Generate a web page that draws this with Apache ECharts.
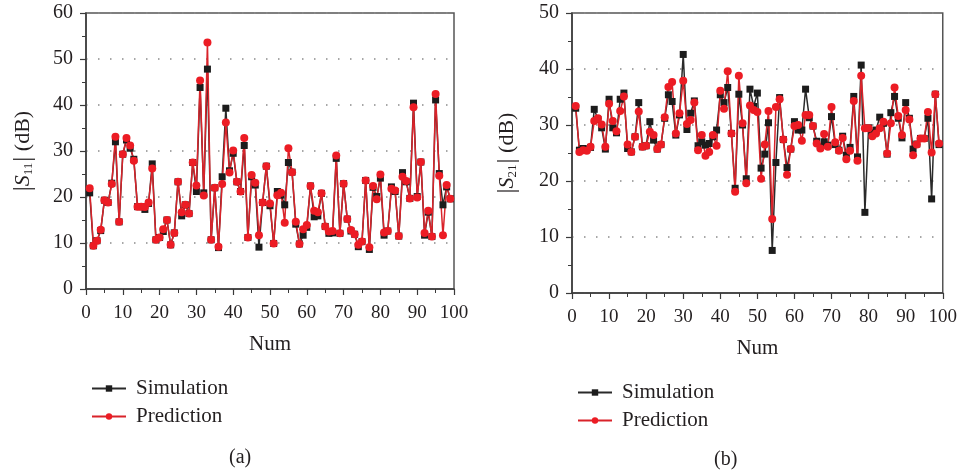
<!DOCTYPE html>
<html>
<head>
<meta charset="utf-8">
<title>S11 / S21</title>
<script src="https://cdn.jsdelivr.net/npm/echarts@6/dist/echarts.min.js"></script>
<style>
  html, body { margin: 0; padding: 0; background: #fff; }
  #main { width: 960px; height: 473px; }
</style>
</head>
<body>
<div id="main"></div>
<script>
// |S11| (a)
var s11Sim = [20.9, 9.4, 10.5, 12.7, 19.3, 18.8, 23.0, 32.0, 14.6, 29.3,
  32.4, 30.6, 28.2, 17.9, 17.9, 17.3, 18.6, 27.2, 10.7, 11.2,
  12.5, 15.0, 9.6, 12.2, 23.3, 15.9, 18.3, 16.4, 27.5, 21.2,
  43.8, 20.9, 47.8, 10.7, 22.0, 9.0, 24.4, 39.3, 25.7, 29.5,
  23.3, 21.2, 31.2, 11.2, 24.4, 22.6, 9.1, 18.8, 26.7, 18.1,
  9.9, 21.2, 20.4, 18.3, 27.5, 25.4, 14.1, 9.8, 11.7, 13.4,
  22.4, 15.7, 15.9, 20.8, 13.6, 12.1, 12.2, 28.4, 12.1, 22.9,
  15.2, 12.6, 11.9, 9.2, 10.3, 23.6, 8.6, 22.1, 20.1, 24.1,
  11.7, 12.6, 22.2, 21.2, 11.5, 25.3, 23.3, 19.7, 40.4, 20.1,
  27.6, 11.7, 16.7, 11.4, 41.1, 25.1, 18.3, 22.2, 19.6];
var s11Pred = [21.9, 9.4, 10.5, 12.9, 19.3, 18.8, 22.8, 33.1, 14.6, 29.3,
  32.8, 31.2, 27.9, 17.9, 17.9, 17.8, 18.8, 26.2, 10.7, 11.2,
  13.0, 15.0, 9.6, 12.2, 23.3, 16.7, 18.3, 16.4, 27.5, 22.5,
  45.3, 20.3, 53.6, 10.7, 22.0, 9.2, 22.8, 36.2, 25.3, 30.1,
  23.3, 21.2, 32.8, 11.2, 24.8, 23.1, 11.7, 18.8, 26.7, 18.6,
  9.9, 20.4, 20.9, 14.4, 30.6, 25.4, 14.6, 9.8, 13.0, 13.9,
  22.4, 17.0, 16.7, 20.8, 13.6, 12.5, 12.6, 29.0, 12.1, 22.9,
  15.2, 12.8, 11.9, 9.6, 10.3, 23.6, 9.1, 22.4, 19.5, 24.9,
  12.3, 12.6, 21.8, 21.4, 11.5, 24.4, 23.5, 19.7, 39.5, 19.9,
  27.6, 12.2, 17.0, 11.4, 42.4, 24.6, 11.7, 22.6, 19.6];

// |S21| (b)
var s21Sim = [33.0, 25.5, 25.8, 25.7, 26.0, 32.8, 31.0, 29.5, 25.7, 34.6,
  29.5, 28.6, 34.6, 35.7, 25.8, 25.2, 27.9, 34.0, 26.1, 26.3,
  30.6, 27.3, 25.7, 26.5, 31.2, 35.4, 34.2, 28.2, 31.8, 42.6,
  29.2, 32.1, 34.3, 26.3, 27.0, 26.4, 26.7, 27.9, 29.1, 35.4,
  34.0, 36.7, 28.5, 18.7, 35.5, 30.0, 20.4, 36.4, 33.3, 35.7,
  22.3, 24.8, 30.4, 7.6, 23.3, 34.9, 27.4, 22.4, 25.7, 30.6,
  29.1, 29.1, 36.4, 31.3, 29.8, 27.1, 26.1, 27.0, 26.4, 31.5,
  26.5, 25.5, 28.0, 24.6, 26.0, 35.1, 24.3, 40.7, 14.4, 29.5,
  28.6, 29.1, 31.4, 30.3, 24.8, 32.2, 35.1, 31.2, 27.7, 34.0,
  31.2, 25.7, 26.6, 27.6, 27.6, 31.2, 16.8, 35.5, 26.5];
var s21Pred = [33.4, 25.2, 25.5, 25.4, 26.1, 30.7, 31.2, 30.1, 26.1, 33.8,
  30.7, 28.9, 32.5, 35.1, 26.5, 25.2, 27.9, 32.4, 26.1, 26.3,
  28.8, 28.2, 25.7, 26.5, 31.4, 36.8, 37.7, 28.5, 32.1, 37.9,
  30.2, 30.9, 34.0, 25.5, 28.2, 24.5, 25.2, 28.2, 26.3, 36.1,
  32.9, 39.6, 28.5, 18.1, 38.8, 30.3, 19.6, 33.5, 32.7, 32.3,
  20.4, 26.5, 32.5, 13.2, 33.2, 34.6, 27.4, 21.1, 25.7, 29.8,
  30.0, 27.2, 31.8, 31.8, 29.8, 26.7, 25.8, 28.4, 26.1, 33.2,
  26.9, 25.4, 27.7, 23.9, 25.4, 34.3, 23.6, 38.8, 29.4, 29.4,
  28.0, 28.5, 29.4, 30.6, 24.9, 30.3, 36.7, 31.6, 28.2, 32.7,
  31.0, 24.6, 26.5, 27.6, 27.6, 32.3, 25.1, 35.5, 26.7];

var font = '"Liberation Serif", "DejaVu Serif", serif';
var textColor = '#231f20';

function pairs(vals) {
  return vals.map(function (v, i) { return [i + 1, v]; });
}

function xAxisOpt(gi) {
  return {
    type: 'value', gridIndex: gi, min: 0, max: 100, interval: 10,
    name: 'Num', nameLocation: 'middle', nameGap: 45,
    nameTextStyle: { fontFamily: font, fontSize: 21, color: textColor },
    axisLine: { onZero: false, lineStyle: { color: '#3a3a3a', width: 1.5 } },
    axisTick: { length: 6, lineStyle: { color: '#3a3a3a', width: 1.2 } },
    minorTick: { show: true, splitNumber: 2, length: 4, lineStyle: { color: '#3a3a3a', width: 1 } },
    axisLabel: { fontFamily: font, fontSize: 19, color: textColor, margin: 15 },
    splitLine: { show: false }
  };
}

function yAxisOpt(gi, max, sub, gap) {
  return {
    type: 'value', gridIndex: gi, min: 0, max: max, interval: 10,
    name: '{b||}{t|S}{s|' + sub + '}{b||}{n| (dB)}',
    nameLocation: 'middle', nameGap: gap, nameRotate: 90,
    nameTextStyle: {
      fontFamily: font, fontSize: 22, color: textColor,
      rich: {
        b: { fontFamily: font, fontSize: 25, color: textColor },
        t: { fontFamily: font, fontSize: 22, fontStyle: 'italic', color: textColor },
        s: { fontFamily: font, fontSize: 13, color: textColor, padding: [11, 1, 0, 0] },
        n: { fontFamily: font, fontSize: 22, color: textColor }
      }
    },
    axisLine: { show: true, lineStyle: { color: '#3a3a3a', width: 1.5 } },
    axisTick: { length: 6, lineStyle: { color: '#3a3a3a', width: 1.2 } },
    minorTick: { show: true, splitNumber: 2, length: 4, lineStyle: { color: '#3a3a3a', width: 1 } },
    axisLabel: { fontFamily: font, fontSize: 20, color: textColor, margin: 13 },
    splitLine: { show: true, lineStyle: { color: '#8a8a8a', width: 1.5, type: [1.5, 10.5] } }
  };
}

function simSeries(gi, vals) {
  return {
    name: 'Simulation', type: 'line', xAxisIndex: gi, yAxisIndex: gi,
    data: pairs(vals), symbol: 'rect', symbolSize: 7,
    itemStyle: { color: '#1c1c1c' },
    lineStyle: { color: '#2a2a2a', width: 1.5 },
    animation: false
  };
}

function predSeries(gi, vals) {
  return {
    name: 'Prediction', type: 'line', xAxisIndex: gi, yAxisIndex: gi,
    data: pairs(vals), symbol: 'circle', symbolSize: 8,
    itemStyle: { color: '#ec1c24' },
    lineStyle: { color: '#d9232a', width: 1.5 },
    animation: false
  };
}

function legendOpt(left, top) {
  return {
    orient: 'vertical', left: left, top: top, itemGap: 7,
    itemWidth: 34, itemHeight: 8, selectedMode: false,
    textStyle: { fontFamily: font, fontSize: 21, color: textColor, padding: [0, 0, 0, 5] },
    data: ['Simulation', 'Prediction']
  };
}

var chart = echarts.init(document.getElementById('main'), null, { renderer: 'canvas' });
chart.setOption({
  backgroundColor: '#fff',
  animation: false,
  grid: [
    { left: 86, top: 13, width: 368, height: 276, show: true, borderColor: '#555', borderWidth: 1.5, backgroundColor: 'transparent' },
    { left: 572, top: 13, width: 371, height: 280, show: true, borderColor: '#555', borderWidth: 1.5, backgroundColor: 'transparent' }
  ],
  xAxis: [xAxisOpt(0), xAxisOpt(1)],
  yAxis: [yAxisOpt(0, 60, '11', 50), yAxisOpt(1, 50, '21', 52)],
  legend: [legendOpt(86, 373), legendOpt(572, 377)],
  series: [
    simSeries(0, s11Sim), predSeries(0, s11Pred),
    simSeries(1, s21Sim), predSeries(1, s21Pred)
  ],
  graphic: [
    { type: 'text', left: 229, top: 448, style: { text: '(a)', font: '20px ' + font, fill: textColor } },
    { type: 'text', left: 714, top: 450, style: { text: '(b)', font: '20px ' + font, fill: textColor } }
  ]
});
</script>
</body>
</html>
